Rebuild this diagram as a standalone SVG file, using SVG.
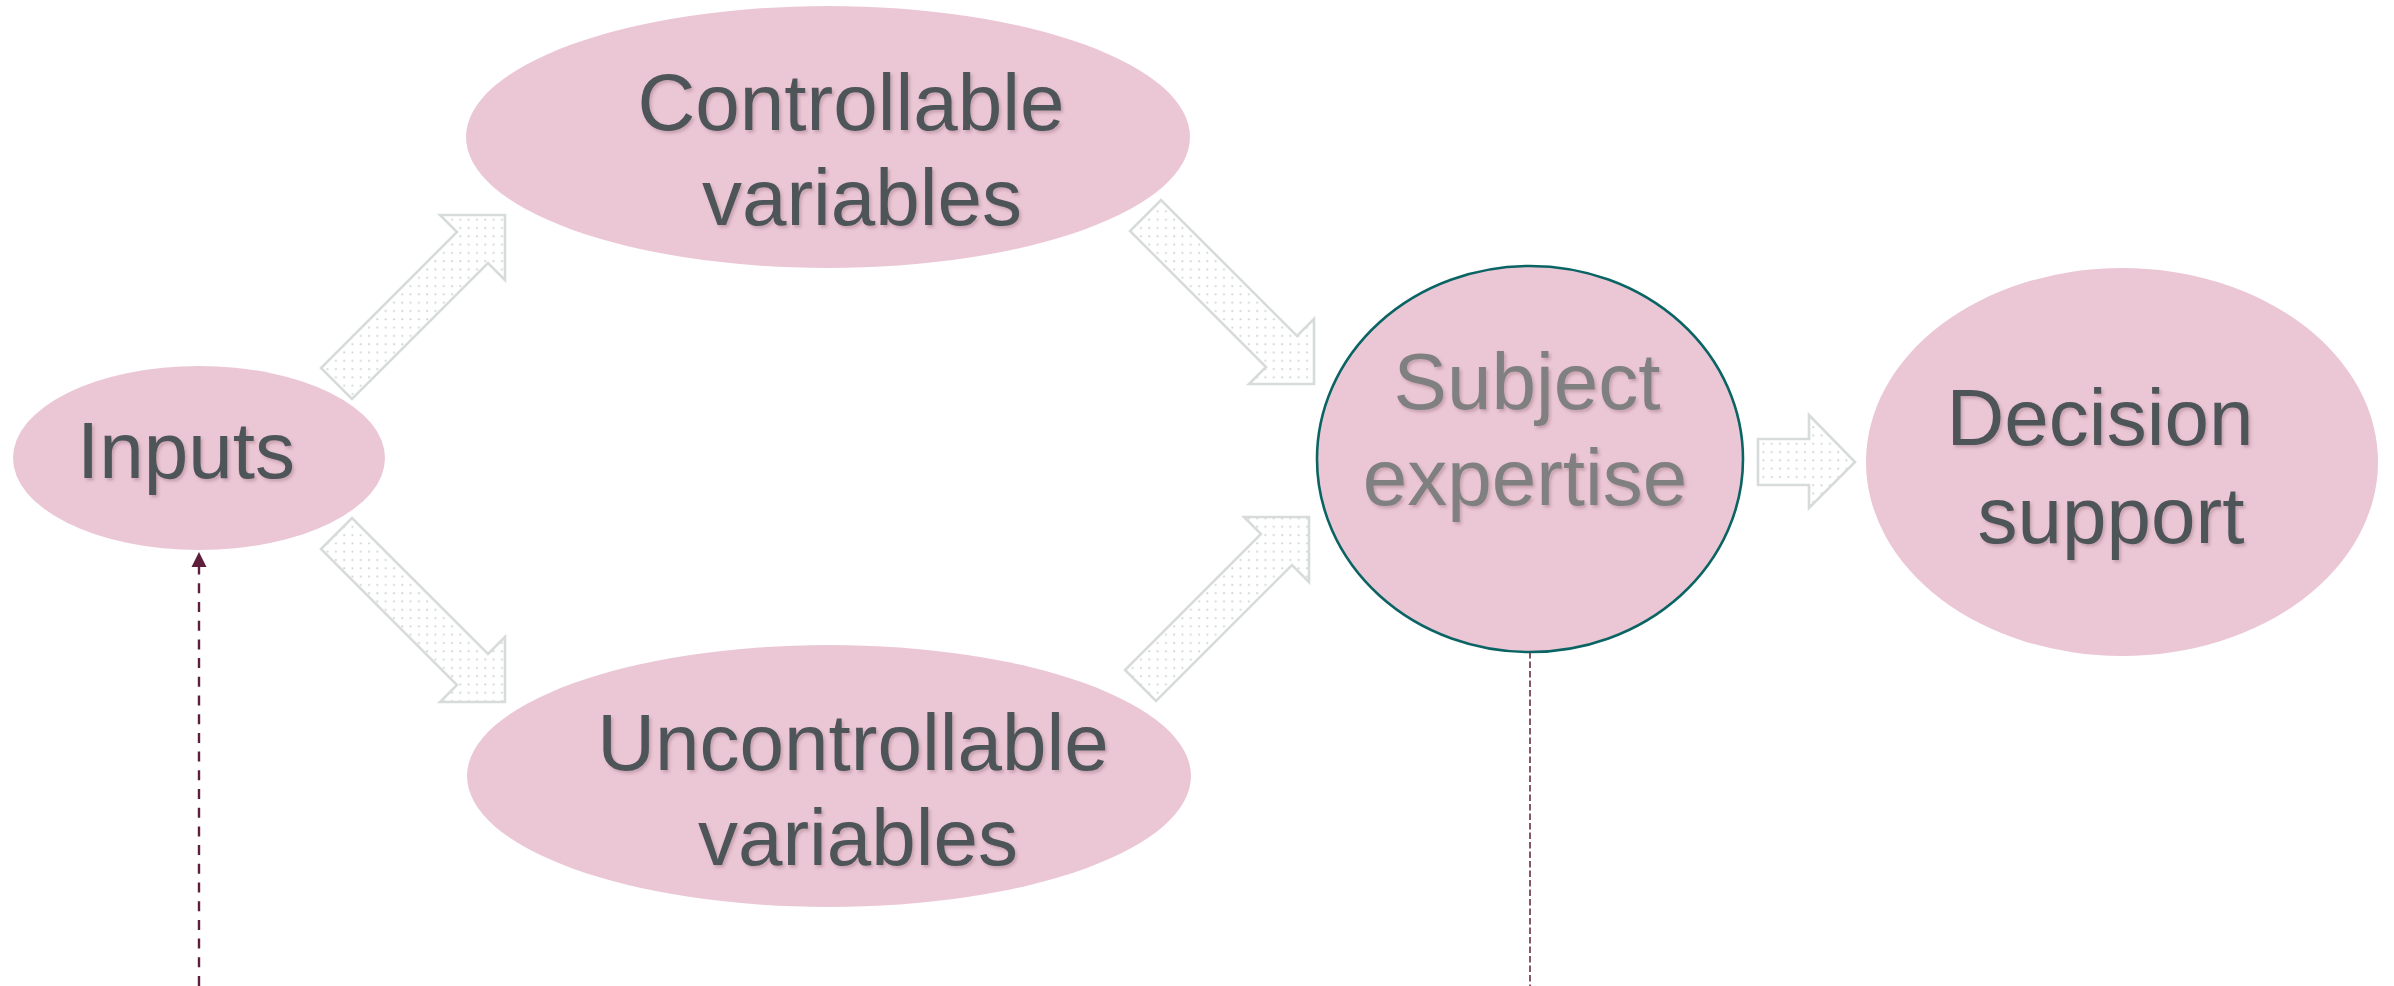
<svg xmlns="http://www.w3.org/2000/svg" width="2394" height="986" viewBox="0 0 2394 986">
  <defs>
    <!-- fine dot fill for the block arrows -->
    <pattern id="dots" x="0" y="0" width="8.3" height="8.3" patternUnits="userSpaceOnUse">
      <rect x="3" y="3" width="1.8" height="1.8" fill="#cfd1d1"/>
    </pattern>
    <filter id="txtShadow" x="-10%" y="-20%" width="120%" height="140%">
      <feDropShadow dx="2" dy="2.5" stdDeviation="1.6" flood-color="#5a2a3a" flood-opacity="0.25"/>
    </filter>
  </defs>
  <style>
    .node { fill: #ebc7d5; }
    .label { font-family: "Liberation Sans", Arial, sans-serif; font-size: 80px; fill: #4e5459; text-anchor: middle; filter: url(#txtShadow); }
    .label.muted { fill: #808080; }
    .blk { fill: url(#dots); stroke: #d8dbdb; stroke-width: 2.6; stroke-linejoin: miter; }
    .dash { fill: none; stroke: #5e1f3d; }
  </style>

  <rect width="2394" height="986" fill="#ffffff"/>

  <!-- connectors -->
  <g id="connectors">
    <!-- Inputs to Controllable variables -->
    <path class="blk" d="M505,215 L440,215 L457,232 L321,368 L352,399 L488,263 L505,280 Z"/>
    <!-- Inputs to Uncontrollable variables -->
    <path class="blk" d="M505,702 L440,702 L457,685 L321,549 L352,518 L488,654 L505,637 Z"/>
    <!-- Controllable variables to Subject expertise -->
    <path class="blk" d="M1314,384 L1249,384 L1266,367 L1130,231 L1161,200 L1297,336 L1314,319 Z"/>
    <!-- Uncontrollable variables to Subject expertise -->
    <path class="blk" d="M1309,517 L1244,517 L1261,534 L1125,670 L1156,701 L1292,565 L1309,582 Z"/>
    <!-- Subject expertise to Decision support -->
    <path class="blk" d="M1758,439 L1809,439 L1809,415 L1855,462 L1809,508 L1809,485 L1758,485 Z"/>
    <!-- dashed feed into Inputs -->
    <line class="dash" x1="199" y1="986" x2="199" y2="567" stroke-width="2.4" stroke-dasharray="10 8.7"/>
    <path d="M199,552 L191.5,567 L206.5,567 Z" fill="#5e1f3d"/>
    <!-- dashed drop from Subject expertise -->
    <line class="dash" x1="1530" y1="652" x2="1530" y2="986" stroke-width="1.5" stroke-dasharray="6.5 3"/>
  </g>

  <g id="inputs">
    <ellipse class="node" cx="199" cy="458" rx="186" ry="92"/>
    <text class="label" x="186" y="478">Inputs</text>
  </g>

  <g id="controllable">
    <ellipse class="node" cx="828" cy="137" rx="362" ry="131"/>
    <text class="label" x="851" y="130">Controllable</text>
    <text class="label" x="862" y="225">variables</text>
  </g>

  <g id="uncontrollable">
    <ellipse class="node" cx="829" cy="776" rx="362" ry="131"/>
    <text class="label" x="853" y="770">Uncontrollable</text>
    <text class="label" x="858" y="865">variables</text>
  </g>

  <g id="subject">
    <ellipse class="node" cx="1530" cy="459" rx="213" ry="193" stroke="#0b6464" stroke-width="2.6"/>
    <text class="label muted" x="1527" y="409">Subject</text>
    <text class="label muted" x="1525" y="505">expertise</text>
  </g>

  <g id="decision">
    <ellipse class="node" cx="2122" cy="462" rx="256" ry="194"/>
    <text class="label" x="2100" y="445">Decision</text>
    <text class="label" x="2111" y="543">support</text>
  </g>
</svg>
